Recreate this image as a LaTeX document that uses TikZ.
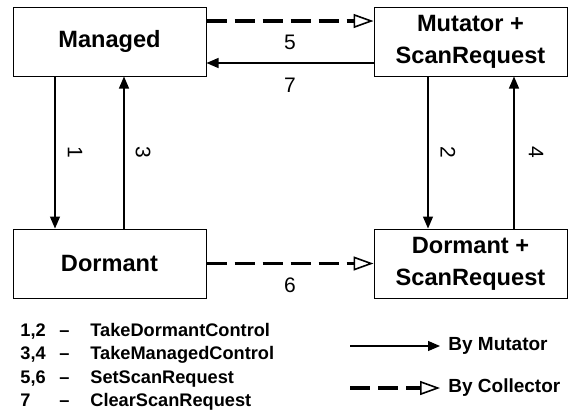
\documentclass[tikz,border=0pt]{standalone}
\usepackage{fontspec}
\setmainfont{Liberation Sans}
\usetikzlibrary{positioning,arrows.meta}

\tikzset{
  state/.style={draw,line width=0.5pt,minimum width=96.5pt,minimum height=34.5pt,
    align=center,inner sep=0pt,font=\fontsize{11.8}{16}\selectfont\bfseries},
  bymutator/.style={-{Triangle[length=6pt,width=5pt]},line width=0.6pt},
  bycollector/.style={-{Triangle[open,length=10pt,width=7pt,line width=0.8pt]},
    line width=1.6pt,dash pattern=on 10pt off 4pt},
  num/.style={font=\fontsize{10.5}{12}\selectfont},
  legend/.style={anchor=base west,inner sep=0pt,font=\fontsize{9.1}{11}\selectfont\bfseries}
}

\begin{document}
\begin{tikzpicture}
  [x=0.5pt,y=-0.5pt]
  \useasboundingbox (0,0) rectangle (573,414);

  \node[state] (managed) at (109.5,41.5) {Managed};
  \node[state,right=83.5pt of managed] (mutator) {Mutator +\\ScanRequest};
  \node[state,below=76pt of managed] (dormant) {Dormant};
  \node[state,right=83.5pt of dormant] (dormantscan) {Dormant +\\ScanRequest};

  % horizontal transitions
  \draw[bycollector] ([yshift=10.25pt]managed.east) -- ([yshift=10.25pt]mutator.west)
    node[num,midway,yshift=-10.5pt] {5};
  \draw[bymutator] ([yshift=-10.75pt]mutator.west) -- ([yshift=-10.75pt]managed.east)
    node[num,midway,yshift=-11pt] {7};
  \draw[bycollector] (dormant.east) -- (dormantscan.west)
    node[num,midway,yshift=-11pt] {6};

  % vertical transitions
  \draw[bymutator] ([xshift=-27.25pt]managed.south) -- ([xshift=-27.25pt]dormant.north)
    node[num,midway,xshift=10pt,rotate=-90] {1};
  \draw[bymutator] ([xshift=7.25pt]dormant.north) -- ([xshift=7.25pt]managed.south)
    node[num,midway,xshift=9.5pt,rotate=-90] {3};
  \draw[bymutator] ([xshift=-21.25pt]mutator.south) -- ([xshift=-21.25pt]dormantscan.north)
    node[num,midway,xshift=10pt,rotate=-90] {2};
  \draw[bymutator] ([xshift=21.75pt]dormantscan.north) -- ([xshift=21.75pt]mutator.south)
    node[num,midway,xshift=11pt,rotate=-90] {4};

  % legend
  \foreach \nums/\txt [count=\i] in {{1,2}/TakeDormantControl,{3,4}/TakeManagedControl,{5,6}/SetScanRequest,7/ClearScanRequest} {
    \node[legend] (legnum\i) at (20,{313.1+23.4*\i}) {\nums};
    \node[legend] (legdash\i) at (59,{313.1+23.4*\i}) {–};
    \node[legend] (legtxt\i) at (90,{313.1+23.4*\i}) {\txt};
  }

  \coordinate (mutfrom) at (350,346);
  \node[legend,anchor=west,inner xsep=4pt,font=\fontsize{9.5}{11}\selectfont\bfseries] (bymut) at (440,346) {By Mutator};
  \draw[bymutator] (mutfrom) -- (bymut);
  \coordinate (colfrom) at (350,388);
  \node[legend,anchor=west,inner xsep=4pt,font=\fontsize{9.5}{11}\selectfont\bfseries] (bycol) at (440,388) {By Collector};
  \draw[bycollector] (colfrom) -- (bycol);
\end{tikzpicture}
\end{document}
